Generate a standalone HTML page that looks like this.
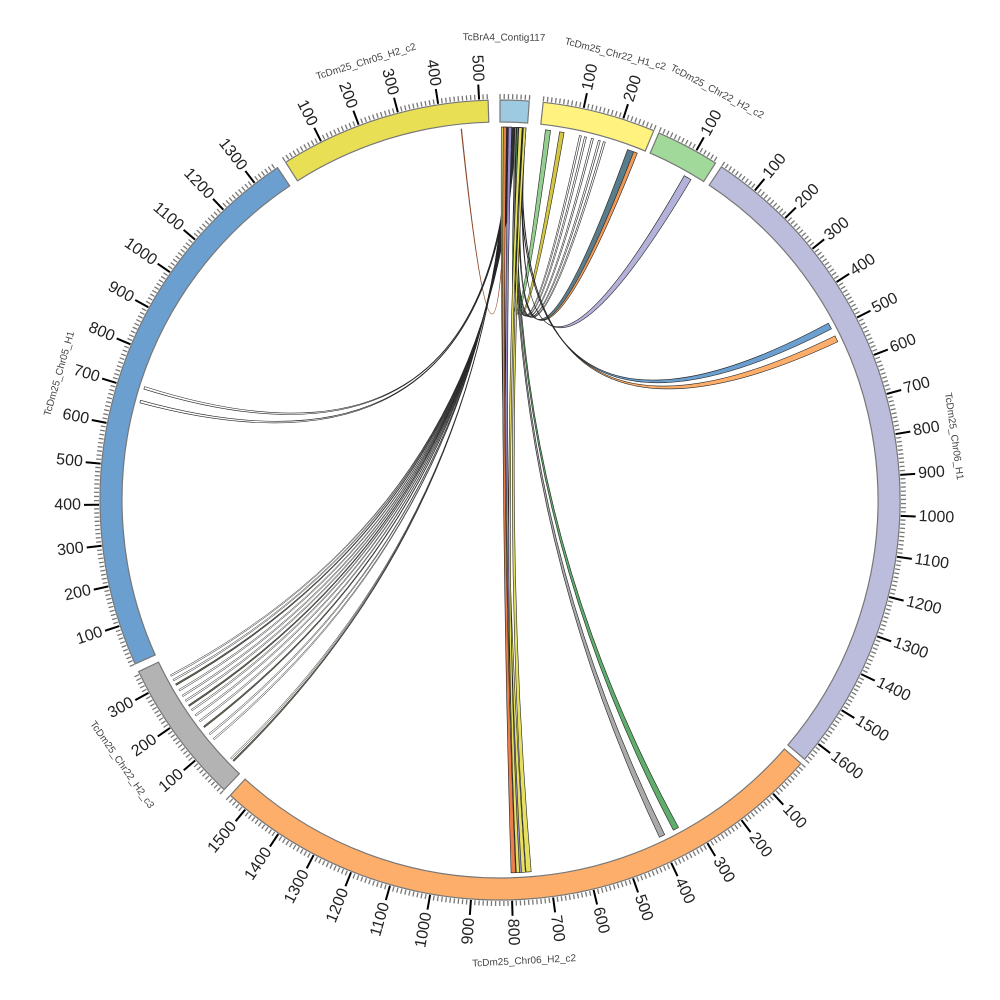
<!DOCTYPE html>
<html><head><meta charset="utf-8">
<style>
html,body{margin:0;padding:0;background:#fff;}
svg{display:block;font-family:"Liberation Sans","DejaVu Sans",sans-serif;}
</style></head>
<body>
<svg id="s" width="1000" height="1000" viewBox="0 0 1000 1000" xmlns="http://www.w3.org/2000/svg"></svg>
<script>
var S=document.getElementById('s');
var CX=500,CY=500,RI=378,RO=400,RL=373,K=17;
function P(a,r){var t=a*Math.PI/180;return [CX+r*Math.sin(t),CY-r*Math.cos(t)];}
function f(p){return p[0].toFixed(2)+','+p[1].toFixed(2);}
var out='';
var segs=[
 {n:'TcBrA4_Contig117',s:0,e:4.2,c:'#9ecae1',len:70},
 {n:'TcDm25_Chr22_H1_c2',s:6.2,e:22.6,c:'#fff27f',len:280},
 {n:'TcDm25_Chr22_H2_c2',s:23.4,e:32.6,c:'#a1d99b',len:155},
 {n:'TcDm25_Chr06_H1',s:33.6,e:130.4,c:'#bcbddc',len:1650},
 {n:'TcDm25_Chr06_H2_c2',s:131.2,e:222.4,c:'#fdae6b',len:1550},
 {n:'TcDm25_Chr22_H2_c3',s:223.6,e:244.6,c:'#b3b3b3',len:357},
 {n:'TcDm25_Chr05_H1',s:245.8,e:326.2,c:'#6b9fcf',len:1367},
 {n:'TcDm25_Chr05_H2_c2',s:327.6,e:358.3,c:'#e8df55',len:522}
];
function rib(a1,a2,b1,b2,fill,st,sw){
 var A1=P(a1,RL),A2=P(a2,RL),B1=P(b1,RL),B2=P(b2,RL);
 var d='M'+f(A1)+' A'+RL+','+RL+' 0 0,1 '+f(A2)+' Q'+CX+','+CY+' '+f(B1)+' A'+RL+','+RL+' 0 0,1 '+f(B2)+' Q'+CX+','+CY+' '+f(A1)+'Z';
 out+='<path d="'+d+'" fill="'+fill+'" stroke="'+(st||'#222')+'" stroke-width="'+(sw||0.6)+'"/>';
}
rib(1.0,1.1,354.0,354.1,'#8b4a2b','#8b4a2b');
rib(1.5,1.6,287.3,287.7,'#fff');
rib(1.7,1.8,285.1,285.5,'#fff');
var g=[225.5,226.0,230.0,231.0,232.4,233.5,234.6,235.6,236.4,237.3,238.2,239.2,240.2,241.0,241.8];
for(var i=0;i<g.length;i++){rib(1.0+i*0.1,1.05+i*0.1,g[i],g[i]+0.25,i%4==0?'#665':'#fff','#222',0.5);}
rib(2.5,2.8,7.0,7.8,'#93cd8f');
rib(2.9,3.1,9.2,9.9,'#d4c545');
var bl=[12.3,13.1,14.2,15.3,16.1];
for(var i=0;i<bl.length;i++)rib(3.0+i*0.05,3.02+i*0.05,bl[i],bl[i]+0.3,'#fff');
rib(3.3,3.5,20.0,21.5,'#5a7d8c');
rib(3.5,3.6,21.0,21.6,'#f29a55');
rib(3.8,4.0,29.6,30.8,'#b4b1da');
rib(3.3,3.4,61.7,62.7,'#6b9fcf');
rib(3.6,3.7,63.9,64.9,'#fdae6b');
rib(2.3,2.5,153.8,154.7,'#aaaaaa');
rib(2.6,2.8,151.4,152.3,'#5fae6b');
rib(0.2,0.9,176.1,177.6,'#e6e060');
rib(0.5,1.0,177.6,178.3,'#e87f4c');
rib(1.3,1.8,176.7,177.4,'#9b8fd0');
rib(3.6,4.0,175.2,176.0,'#e6e060');
rib(2.9,3.4,177.0,177.5,'#e6e060');
segs.forEach(function(sg){
 var a=P(sg.s,RO),b=P(sg.e,RO),c=P(sg.e,RI),d=P(sg.s,RI);
 var lg=(sg.e-sg.s)>180?1:0;
 out+='<path d="M'+f(a)+' A'+RO+','+RO+' 0 '+lg+',1 '+f(b)+' L'+f(c)+' A'+RI+','+RI+' 0 '+lg+',0 '+f(d)+'Z" fill="'+sg.c+'" stroke="#777" stroke-width="1.2"/>';
 var sc=(sg.e-sg.s)/sg.len;
 for(var u=0;u<=sg.len;u+=10){
  var an=sg.s+u*sc;var maj=(u%100==0&&u>0);
  var p1=P(an,RO+1),p2=P(an,RO+(maj?16:6));
  out+='<line x1="'+p1[0].toFixed(2)+'" y1="'+p1[1].toFixed(2)+'" x2="'+p2[0].toFixed(2)+'" y2="'+p2[1].toFixed(2)+'" stroke="'+(maj?'#000':'#777')+'" stroke-width="'+(maj?2:1.3)+'"/>';
  if(maj){
   var q=P(an,RO+19);var rot,anc;
   if(an<180){rot=an-90;anc='start';}else{rot=an+90;anc='end';}
   out+='<text x="'+q[0].toFixed(2)+'" y="'+q[1].toFixed(2)+'" font-size="16" fill="#222" text-anchor="'+anc+'" dominant-baseline="central" transform="rotate('+rot.toFixed(2)+' '+q[0].toFixed(2)+' '+q[1].toFixed(2)+')">'+u+'</text>';
  }
 }
});
var labs=[['TcBrA4_Contig117',0.5,462,0],['TcDm25_Chr22_H1_c2',14.5,460,0],['TcDm25_Chr22_H2_c2',28,462,0],['TcDm25_Chr06_H1',82,458,0],['TcDm25_Chr06_H2_c2',177,462,1],['TcDm25_Chr22_H2_c3',235,462,1],['TcDm25_Chr05_H1',286,458,0],['TcDm25_Chr05_H2_c2',343,458,0]];
labs.forEach(function(l){
 var an=l[1];var q=P(an,l[2]);var rot=(an>90&&an<270)?an-180:an;
 out+='<text x="'+q[0].toFixed(2)+'" y="'+q[1].toFixed(2)+'" font-size="10" fill="#444" text-anchor="middle" dominant-baseline="central" transform="rotate('+rot.toFixed(2)+' '+q[0].toFixed(2)+' '+q[1].toFixed(2)+')">'+l[0]+'</text>';
});
S.innerHTML=out;
</script>
</body></html>
